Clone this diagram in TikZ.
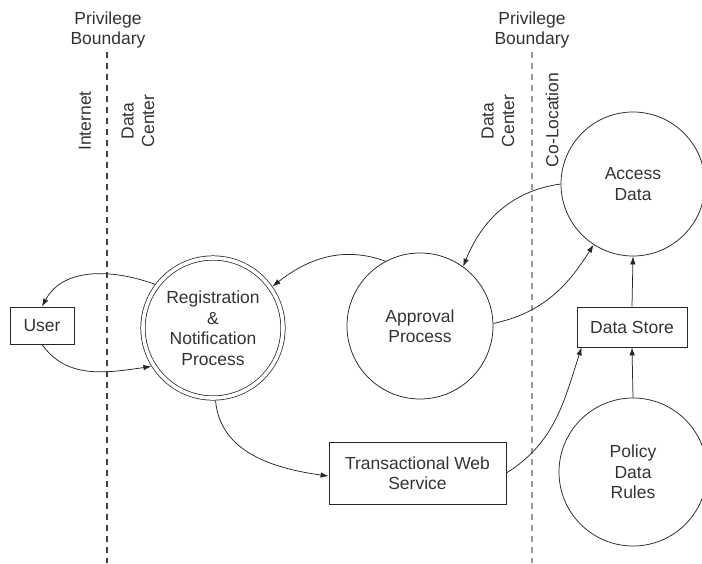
\documentclass[tikz,border=0pt]{standalone}
\usepackage{fontspec}
\setmainfont{Liberation Sans}
\usetikzlibrary{arrows.meta}
\begin{document}
\begin{tikzpicture}[x=1pt,y=-1pt,
  every node/.style={font=\fontsize{17.5}{20.5}\selectfont, text=black!80, align=center},
  proc/.style={draw=black!85, line width=0.75pt, circle, inner sep=0pt},
  ent/.style={draw=black!85, line width=0.75pt, rectangle, inner sep=0pt},
  flow/.style={draw=black!85, line width=0.75pt, -{Latex[length=8pt,width=5.5pt]}},
  boundary/.style={line width=1.4pt, dash pattern=on 6pt off 5pt},
  zone/.style={rotate=90}]
\useasboundingbox (0,0) rectangle (702,563);

% privilege boundaries
\node (pbL) at (108,30) {Privilege\\Boundary};
\node (pbR) at (532,30) {Privilege\\Boundary};
\coordinate (bL) at (107,563);
\coordinate (bR) at (532,563);
\draw[boundary, black!75] (107,52) -- (bL);
\draw[boundary, black!40] (532,52) -- (bR);

% zone labels
\node[zone] (inet) at (85,121) {Internet};
\node[zone] (dcL) at (138,121) {Data\\Center};
\node[zone] (dcR) at (498,121) {Data\\Center};
\node[zone] (coloc) at (552,120) {Co-Location};

% processes
\node[proc, double, double distance=3.6pt, minimum size=140pt, outer sep=2.6pt] (reg) at (213,328)
  {Registration\\\&\\Notification\\Process};
\node[proc, minimum size=146pt] (appr) at (420,326) {Approval\\Process};
\node[proc, minimum size=144pt] (acc) at (633,184) {Access\\Data};
\node[proc, minimum size=148pt] (pol) at (633,472) {Policy\\Data\\Rules};

% entities and stores
\node[ent, minimum width=64pt, minimum height=37pt] (user) at (42,325.5) {User};
\node[ent, minimum width=110pt, minimum height=40pt] (store) at (632,327) {Data Store};
\node[ent, minimum width=177pt, minimum height=62pt] (tws) at (417.5,473) {Transactional Web\\Service};

% flows
\draw[flow] (reg.143) to[out=160, in=62] (user.north);
\draw[flow] (user.south) to[out=-55, in=188] (reg.212);
\draw[flow] (appr.118) to[out=160, in=38] (reg.35);
\draw[flow] (acc.west) to[out=188, in=68] (appr.54);
\draw[flow] (appr.2) to[out=12, in=238] (acc.237);
\draw[flow] (reg.272) to[out=-85, in=172] (tws.182);
\draw[flow] (tws.east) to[out=32, in=252] (store.202);
\draw[flow] (store.north) -- (acc.south);
\draw[flow] (pol.north) -- (store.south);
\end{tikzpicture}
\end{document}
